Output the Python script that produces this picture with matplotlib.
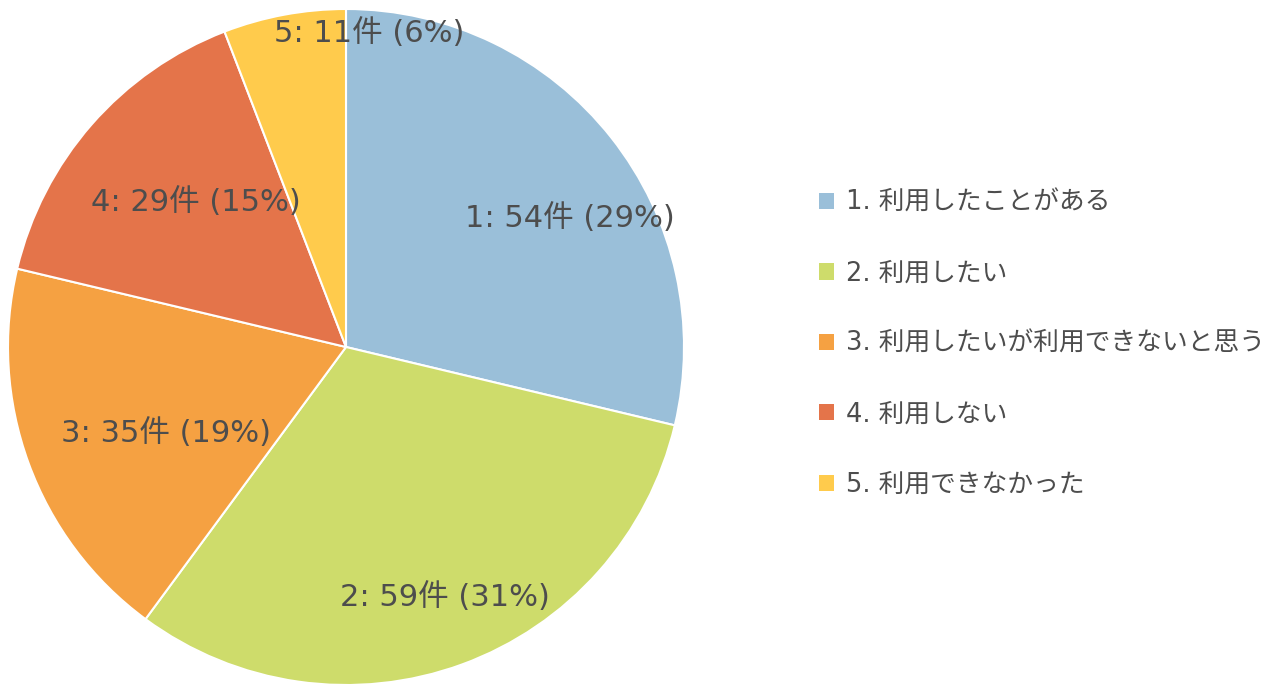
import matplotlib
matplotlib.use('Agg')
import matplotlib.pyplot as plt
from matplotlib.patches import Patch

# DejaVu for latin (Verdana-like), Noto CJK for the Japanese glyphs
plt.rcParams['font.family'] = ['DejaVu Sans', 'Noto Sans CJK JP']

# survey answers
categories = ['1. 利用したことがある', '2. 利用したい', '3. 利用したいが利用できないと思う',
              '4. 利用しない', '5. 利用できなかった']
counts = [54, 59, 35, 29, 11]
colors = ['#9ABFD9', '#CEDC6B', '#F5A142', '#E4744A', '#FFCB4C']

# label centres in pie units (Excel "best fit" placement)
label_pos = [(0.663, 0.382), (0.293, -0.740), (-0.533, -0.254), (-0.444, 0.429), (0.068, 0.929)]

text_color = '#4D4D4D'
total = sum(counts)

fig = plt.figure(figsize=(12.86, 6.84), dpi=100)
# pie centre at (346, 347) px, radius 338 px
ax = fig.add_axes([(346 - 338) / 1286, (684 - 347 - 338) / 684, 676 / 1286, 676 / 684])
wedges, _ = ax.pie(counts, colors=colors, startangle=90, counterclock=False,
                   radius=1, wedgeprops=dict(edgecolor='white', linewidth=1.5))
ax.set_xlim(-1, 1)
ax.set_ylim(-1, 1)
ax.set_aspect('equal')
ax.axis('off')

for i, (c, (x, y)) in enumerate(zip(counts, label_pos)):
    pct = round(c / total * 100)
    ax.text(x, y, '{}: {}件 ({}%)'.format(i + 1, c, pct), ha='center', va='center',
            fontsize=22, color=text_color)

handles = [Patch(facecolor=col, edgecolor='none') for col in colors]
fig.legend(handles, categories, loc='upper left', bbox_to_anchor=(819 / 1286, 1 - 190 / 684),
           frameon=False, fontsize=18.5, labelcolor=text_color, handlelength=0.6,
           handleheight=0.6, handletextpad=0.45, labelspacing=1.73, borderpad=0, borderaxespad=0)

fig.savefig('out.png', dpi=100)
